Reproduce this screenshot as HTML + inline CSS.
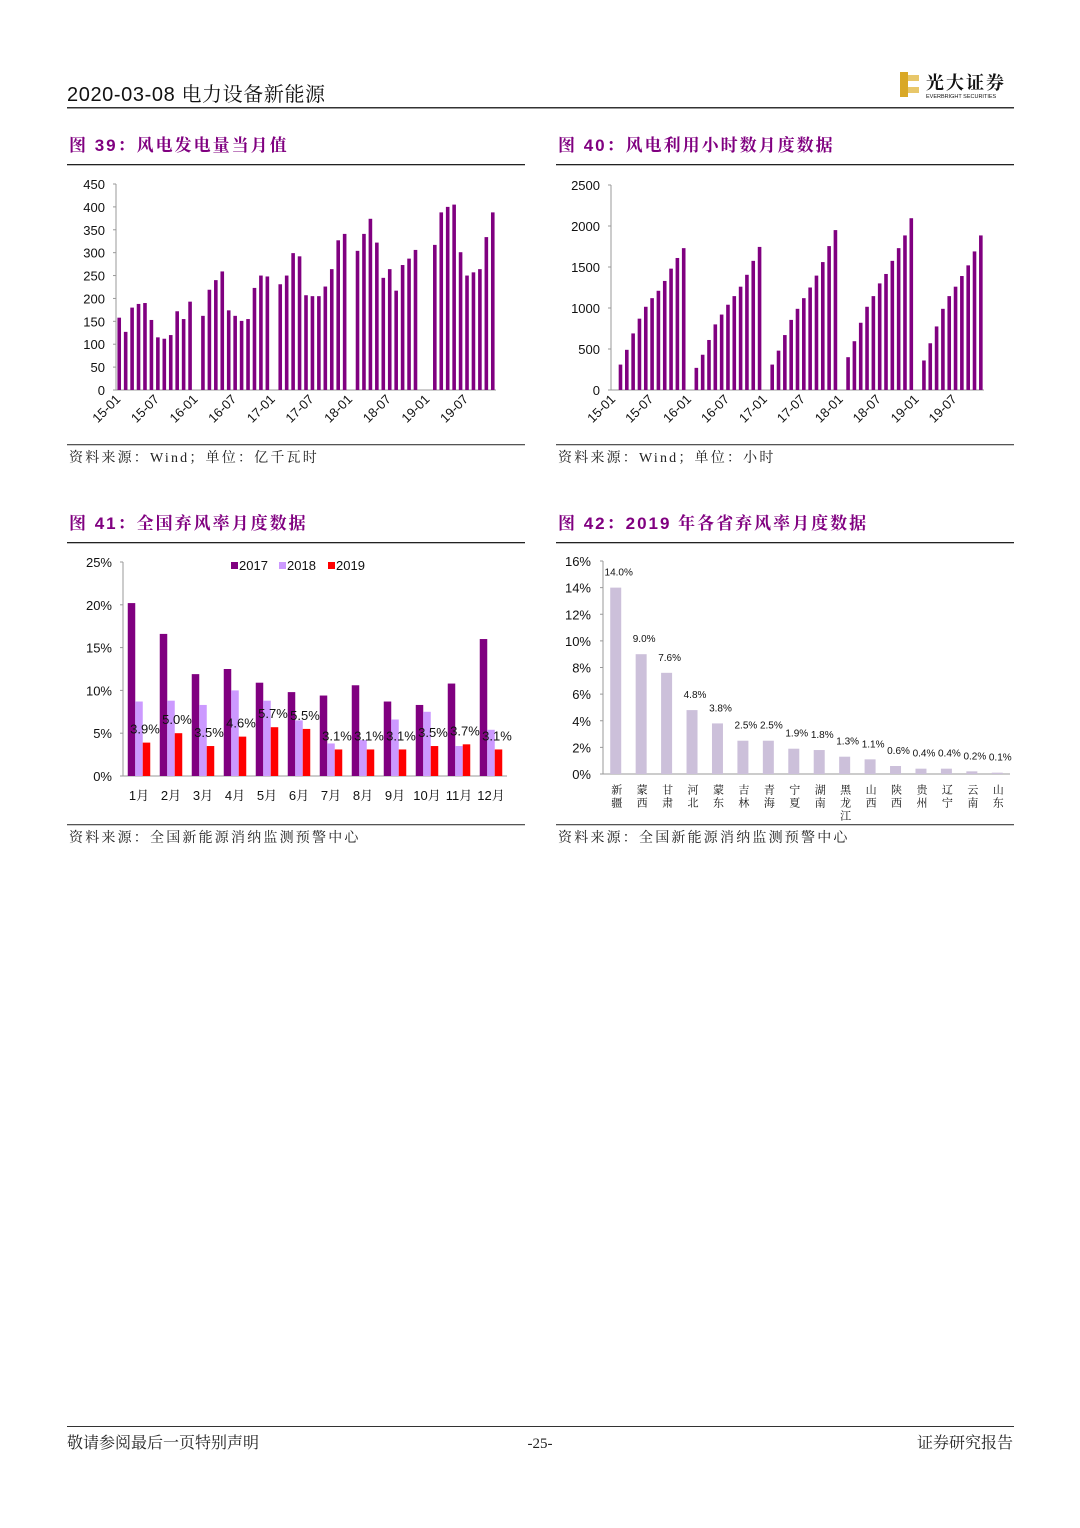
<!DOCTYPE html>
<html><head><meta charset="utf-8"><style>
html,body{margin:0;padding:0;background:#fff;}
svg{display:block;}
.t{font-family:"Liberation Sans","Noto Serif CJK SC",serif;}
.cj{font-family:"Liberation Serif","Noto Serif CJK SC",serif;}
.src{font-family:"Liberation Serif","Noto Serif CJK SC",serif;letter-spacing:2.2px;}
.ttl{font-family:"Liberation Sans","Noto Serif CJK SC",serif;font-weight:bold;fill:#800080;font-size:17px;letter-spacing:2px;}
.tk{font-family:"Liberation Sans",sans-serif;font-size:13px;fill:#111;}
</style></head><body>
<svg id="pg" width="1080" height="1528" viewBox="0 0 1080 1528" xmlns="http://www.w3.org/2000/svg">
<g>
<text x="67" y="101" class="t" font-size="20" fill="#111" letter-spacing="0.6">2020-03-08 电力设备新能源</text>
<rect x="900" y="72" width="8" height="25" fill="#d9a826"/>
<rect x="908" y="75" width="11" height="6" fill="#e8c76a"/>
<rect x="908" y="87" width="11" height="6" fill="#e8c76a"/>
<text x="926" y="89" class="cj" font-size="18" font-weight="bold" fill="#111" letter-spacing="2">光大证券</text>
<text x="926" y="98" class="t" font-size="5.5" fill="#111">EVERBRIGHT SECURITIES</text>
<rect x="67" y="107" width="947" height="1.5" fill="#333"/>
</g>
<g id="c39"></g>
<g id="c40"></g>
<g id="c41"></g>
<g id="c42"></g>
<g>
<rect x="67" y="1426" width="947" height="1" fill="#333"/>
<text x="67" y="1448" class="cj" font-size="16" fill="#222">敬请参阅最后一页特别声明</text>
<text x="540" y="1448" class="cj" font-size="15" fill="#222" text-anchor="middle">-25-</text>
<text x="1013" y="1448" class="cj" font-size="16" fill="#222" text-anchor="end">证券研究报告</text>
</g>
</svg>
<script>
var NS="http://www.w3.org/2000/svg";
// chart 39 data (null = missing month)
var c39Values=[158,127,180,188,190,153,115,112,120,172,155,193,
 null,162,219,240,259,174,162,151,155,223,250,248,
 null,231,250,299,292,207,205,205,226,264,327,341,
 null,304,341,374,322,245,264,217,273,287,306,null,
 null,317,388,400,405,301,250,257,264,334,388];
var c39Ticks=[0,50,100,150,200,250,300,350,400,450];
var monthLabels=["15-01","15-07","16-01","16-07","17-01","17-07","18-01","18-07","19-01","19-07"];
// chart 40 data
var c40Values=[null,310,490,690,870,1015,1120,1210,1330,1480,1610,1730,
 null,270,430,610,800,920,1040,1145,1260,1405,1575,1745,
 null,310,480,670,855,990,1120,1250,1395,1560,1755,1950,
 null,400,595,820,1015,1145,1300,1415,1575,1730,1885,2095,
 null,360,570,775,990,1145,1260,1390,1520,1690,1885];
var c40Ticks=[0,500,1000,1500,2000,2500];
// chart 41 data
var c41Months=["1月","2月","3月","4月","5月","6月","7月","8月","9月","10月","11月","12月"];
var c41S2017=[20.2,16.6,11.9,12.5,10.9,9.8,9.4,10.6,8.7,8.3,10.8,16.0];
var c41S2018=[8.7,8.8,8.3,10.0,8.8,6.5,3.8,4.2,6.6,7.5,3.5,5.4];
var c41S2019=[3.9,5.0,3.5,4.6,5.7,5.5,3.1,3.1,3.1,3.5,3.7,3.1];
var c41Ticks=[0,5,10,15,20,25];
// chart 42 data
var c42Provinces=["新疆","蒙西","甘肃","河北","蒙东","吉林","青海","宁夏","湖南","黑龙江","山西","陕西","贵州","辽宁","云南","山东"];
var c42Values=[14.0,9.0,7.6,4.8,3.8,2.5,2.5,1.9,1.8,1.3,1.1,0.6,0.4,0.4,0.2,0.1];
var c42Ticks=[0,2,4,6,8,10,12,14,16];

function mk(tag,attrs,parent,txt){var e=document.createElementNS(NS,tag);for(var k in attrs)e.setAttribute(k,attrs[k]);if(txt!=null)e.textContent=txt;parent.appendChild(e);return e;}

function frame(g,x0,title,source){
  var t=mk("text",{x:x0+2,y:151,"class":"ttl"},g,title);
  
  
  var l1=mk("rect",{x:x0,y:164,width:458,height:1.3,fill:"#222"},g);
  
  
  var l2=mk("rect",{x:x0,y:444,width:458,height:1.3,fill:"#555"},g);
  
  
  var s=mk("text",{x:x0+2,y:462,"class":"src","font-size":"14",fill:"#222"},g,source);
  
  
}

function monthChart(g,vals,ticks,ax,ay0,ayTop,xEnd,vmax){
  var slot=(xEnd-ax)/vals.length;
  function X(i){return ax+slot*(i+0.5);}
  function Y(v){return ay0-(ay0-ayTop)*v/vmax;}
  var axl=mk("line",{x1:ax,y1:ayTop,x2:ax,y2:ay0,stroke:"#999","stroke-width":1},g);
  
  
  var xl=mk("line",{x1:ax,y1:ay0,x2:xEnd,y2:ay0,stroke:"#999","stroke-width":1},g);
  
  
  ticks.forEach(function(v){
    var tk=mk("line",{x1:ax-3,y1:Y(v),x2:ax,y2:Y(v),stroke:"#999"},g);
    
    
    var tl=mk("text",{x:ax-11,y:Y(v)+5,"text-anchor":"end","class":"tk"},g,String(v));
    
    
  });
  vals.forEach(function(v,i){
    if(v==null)return;
    var b=mk("rect",{x:X(i)-1.8,y:Y(v),width:3.6,height:ay0-Y(v),fill:"#800080"},g);
    
    
  });
  monthLabels.forEach(function(lb,k){
    var i=k*6, x=X(i)+2, y=ay0+10;
    var tx=mk("text",{x:x,y:y,"text-anchor":"end","class":"tk",transform:"rotate(-45 "+x+" "+y+")"},g,lb);
    
    
  });
}

// Chart 39
var g39=document.getElementById("c39");
frame(g39,67,"图 39：风电发电量当月值","资料来源：Wind；单位：亿千瓦时");
monthChart(g39,c39Values,c39Ticks,116,390,184,496,450);
// Chart 40
var g40=document.getElementById("c40");
frame(g40,556,"图 40：风电利用小时数月度数据","资料来源：Wind；单位：小时");
monthChart(g40,c40Values,c40Ticks,611,390,185,984,2500);

// Chart 41
(function(){
  var g=document.getElementById("c41");
  var t=mk("text",{x:69,y:529,"class":"ttl"},g,"图 41：全国弃风率月度数据");
  
  
  var r1=mk("rect",{x:67,y:542,width:458,height:1.3,fill:"#222"},g);
  
  
  var r2=mk("rect",{x:67,y:824,width:458,height:1.3,fill:"#555"},g);
  
  
  var s=mk("text",{x:69,y:842,"class":"src","font-size":"14",fill:"#222"},g,"资料来源：全国新能源消纳监测预警中心");
  
  
  var ax=123,ay0=776,ayTop=562,xEnd=507,vmax=25;
  var gw=(xEnd-ax)/c41Months.length;
  function Y(v){return ay0-(ay0-ayTop)*v/vmax;}
  var a=mk("line",{x1:ax,y1:ayTop,x2:ax,y2:ay0,stroke:"#999"},g);
  
  
  var xa=mk("line",{x1:ax,y1:ay0,x2:xEnd,y2:ay0,stroke:"#999"},g);
  
  
  c41Ticks.forEach(function(v){
    var tk=mk("line",{x1:ax-3,y1:Y(v),x2:ax,y2:Y(v),stroke:"#999"},g);
    
    
    var tl=mk("text",{x:ax-11,y:Y(v)+5,"text-anchor":"end","class":"tk"},g,v+"%");
    
    
  });
  var series=[[c41S2017,"#800080"],[c41S2018,"#cc99ff"],[c41S2019,"#ff0000"]];
  var bw=7.5;
  c41Months.forEach(function(m,i){
    var cx=ax+gw*(i+0.5);
    series.forEach(function(s,j){
      var v=s[0][i],x=cx-bw*1.5+bw*j;
      var b=mk("rect",{x:x,y:Y(v),width:bw,height:ay0-Y(v),fill:s[1]},g);
      
      
    });
    var lb=mk("text",{x:cx+6,y:Y(c41S2019[i])-9,"text-anchor":"middle","class":"tk","font-size":"12"},g,c41S2019[i].toFixed(1)+"%");
    
    
    var ml=mk("text",{x:cx,y:800,"text-anchor":"middle","class":"t","font-size":"13",fill:"#111"},g,m);
    
    
  });
  var lx=[231,279,328],names=["2017","2018","2019"];
  names.forEach(function(n,j){
    var sq=mk("rect",{x:lx[j],y:562,width:7,height:7,fill:series[j][1]},g);
    
    
    var lt=mk("text",{x:lx[j]+8,y:570,"class":"tk"},g,n);
    
    
  });
})();

// Chart 42
(function(){
  var g=document.getElementById("c42");
  var t=mk("text",{x:558,y:529,"class":"ttl"},g,"图 42：2019 年各省弃风率月度数据");
  
  
  var r1=mk("rect",{x:556,y:542,width:458,height:1.3,fill:"#222"},g);
  
  
  var r2=mk("rect",{x:556,y:824,width:458,height:1.3,fill:"#555"},g);
  
  
  var s=mk("text",{x:558,y:842,"class":"src","font-size":"14",fill:"#222"},g,"资料来源：全国新能源消纳监测预警中心");
  
  
  var ax=603,ay0=774,ayTop=561,xEnd=1010,vmax=16;
  var slot=(xEnd-ax)/c42Provinces.length;
  function Y(v){return ay0-(ay0-ayTop)*v/vmax;}
  var a=mk("line",{x1:ax,y1:ayTop,x2:ax,y2:ay0,stroke:"#999"},g);
  
  
  var xa=mk("line",{x1:ax,y1:ay0,x2:xEnd,y2:ay0,stroke:"#999"},g);
  
  
  c42Ticks.forEach(function(v){
    var tk=mk("line",{x1:ax-3,y1:Y(v),x2:ax,y2:Y(v),stroke:"#999"},g);
    
    
    var tl=mk("text",{x:ax-12,y:Y(v)+5,"text-anchor":"end","class":"tk"},g,v+"%");
    
    
  });
  c42Provinces.forEach(function(p,i){
    var cx=ax+slot*(i+0.5),v=c42Values[i];
    var b=mk("rect",{x:cx-5.5,y:Y(v),width:11,height:ay0-Y(v),fill:"#ccc0da"},g);
    
    
    var lb=mk("text",{x:cx+3,y:Y(v)-12,"text-anchor":"middle","class":"t","font-size":"10",fill:"#111"},g,v.toFixed(1)+"%");
    
    
    var pl=mk("text",{x:cx,y:784,"class":"cj","font-size":"11",fill:"#111","letter-spacing":"2","style":"writing-mode:vertical-rl;glyph-orientation-vertical:0"},g,p);
    
    
  });
})();
</script>
</body></html>
